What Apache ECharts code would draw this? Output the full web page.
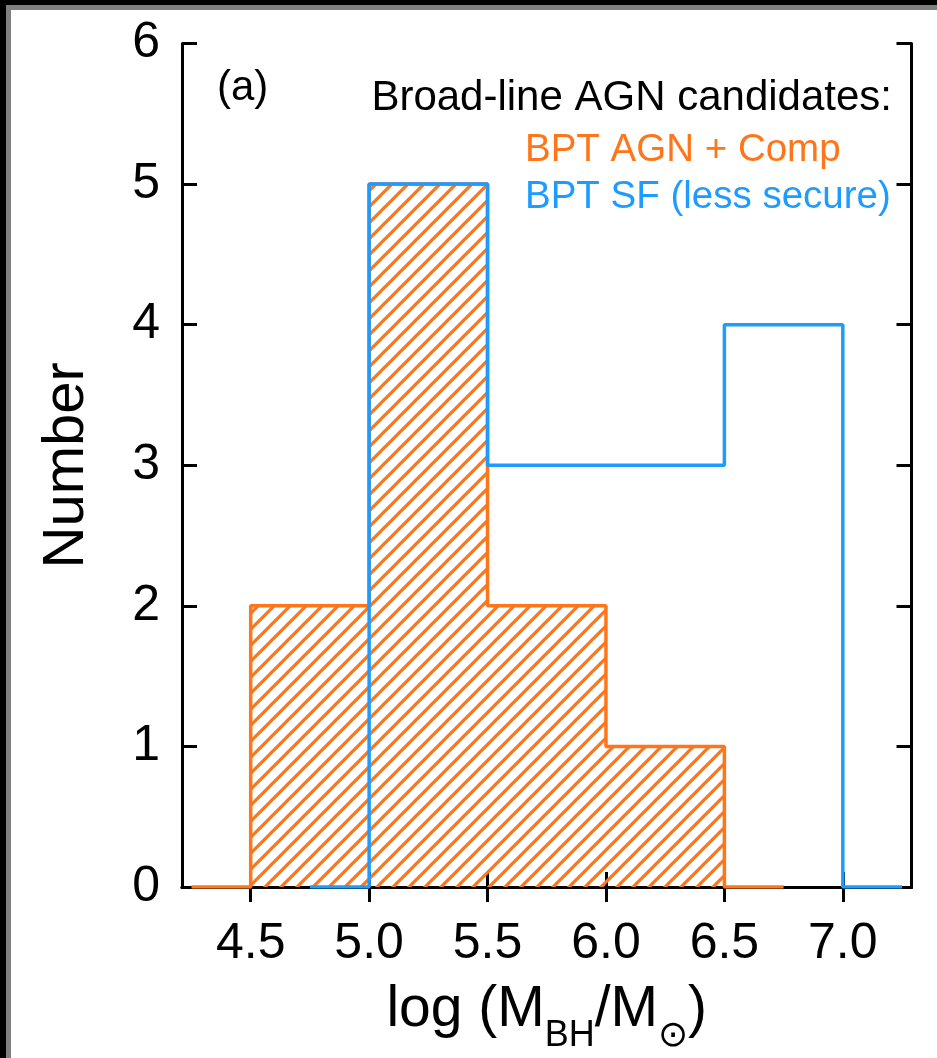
<!DOCTYPE html>
<html>
<head>
<meta charset="utf-8">
<script src="https://cdn.jsdelivr.net/npm/echarts@6/dist/echarts.min.js"></script>
<style>
  html, body { margin: 0; padding: 0; background: #000; width: 937px; height: 1058px; overflow: hidden; }
  #frame { position: absolute; left: 6px; top: 5px; width: 931px; height: 1053px; background: #808080; }
  #inner { position: absolute; left: 11px; top: 10px; width: 926px; height: 1048px; background: #fff; }
  #chart { position: absolute; left: 0; top: 0; width: 937px; height: 1058px; }
</style>
</head>
<body>
<div id="frame"></div>
<div id="inner"></div>
<div id="chart"></div>
<script>
// ---- data ----
const agnCenters = [4.25, 4.75, 5.25, 5.75, 6.25, 6.75];
const agnCounts  = [0, 2, 5, 2, 1, 0];
const sfCenters  = [4.75, 5.25, 5.75, 6.25, 6.75, 7.25];
const sfCounts   = [0, 5, 3, 3, 4, 0];
const xTickLabels = ['4.5', '5.0', '5.5', '6.0', '6.5', '7.0'];
const yTickLabels = ['0', '1', '2', '3', '4', '5', '6'];
const xRange = [4.21, 7.29];

const ORANGE = '#FF7519';
const BLUE = '#1E9BFF';
const FONT = '"Liberation Sans", Arial, Helvetica, sans-serif';

const xTickValues = xTickLabels.map(parseFloat);

// hatch pattern
const tile = document.createElement('canvas');
tile.width = 16; tile.height = 16;
const ctx = tile.getContext('2d');
ctx.strokeStyle = ORANGE;
ctx.lineWidth = 3.2;
ctx.lineCap = 'square';
[-16, 0, 16].forEach(dx => {
  ctx.beginPath();
  ctx.moveTo(dx, 16);
  ctx.lineTo(dx + 16, 0);
  ctx.stroke();
});

const chart = echarts.init(document.getElementById('chart'), null, { renderer: 'canvas' });

const axisLineStyle = { show: true, lineStyle: { color: '#000', width: 3 } };
const tickStyle = { show: true, inside: true, length: 15, lineStyle: { color: '#000', width: 3 } };

const option = {
  animation: false,
  backgroundColor: 'transparent',
  grid: { left: 182, right: 25.5, top: 43.5, bottom: 171, containLabel: false, outerBoundsMode: 'none' },
  xAxis: [
    {
      type: 'value', position: 'bottom', min: xRange[0], max: xRange[1],
      axisLine: axisLineStyle,
      axisTick: Object.assign({}, tickStyle, { customValues: xTickValues }),
      splitLine: { show: false },
      axisLabel: {
        customValues: xTickValues,
        formatter: v => xTickLabels[xTickValues.indexOf(v)] ?? v.toFixed(1),
        color: '#000', fontFamily: FONT, fontSize: 50, margin: 32
      },
      name: '{a|log (M}{s|BH}{a|/M}{s|⊙}{a|)}',
      nameLocation: 'middle',
      nameGap: 93,
      nameTextStyle: {
        rich: {
          a: { fontFamily: FONT, fontSize: 57, color: '#000', lineHeight: 60 },
          s: { fontFamily: FONT, fontSize: 36, color: '#000', lineHeight: 40, verticalAlign: 'bottom', padding: [0, 0, -14, 0] }
        }
      }
    },
    {
      type: 'value', position: 'top', min: xRange[0], max: xRange[1],
      axisLine: axisLineStyle,
      axisTick: Object.assign({}, tickStyle, { customValues: xTickValues }),
      axisLabel: { show: false },
      splitLine: { show: false }
    }
  ],
  yAxis: [
    {
      type: 'value', position: 'left', min: 0, max: 6, interval: 1,
      axisLine: axisLineStyle,
      axisTick: tickStyle,
      splitLine: { show: false },
      axisLabel: {
        formatter: v => yTickLabels[v] ?? String(v),
        color: '#000', fontFamily: FONT, fontSize: 50, margin: 22
      },
      name: 'Number',
      nameLocation: 'middle',
      nameRotate: 90,
      nameGap: 86,
      nameTextStyle: { fontFamily: FONT, fontSize: 58, color: '#000' }
    },
    {
      type: 'value', position: 'right', min: 0, max: 6, interval: 1,
      axisLine: axisLineStyle,
      axisTick: tickStyle,
      axisLabel: { show: false },
      splitLine: { show: false }
    }
  ],
  series: [
    {
      name: 'BPT AGN + Comp',
      type: 'line',
      step: 'middle',
      xAxisIndex: 0, yAxisIndex: 0,
      data: agnCenters.map((c, i) => [c, agnCounts[i]]),
      symbol: 'none',
      lineStyle: { color: ORANGE, width: 3.5 },
      areaStyle: { color: { image: tile, repeat: 'repeat' }, opacity: 1, origin: 'start' },
      z: 2
    },
    {
      name: 'BPT SF (less secure)',
      type: 'line',
      step: 'middle',
      xAxisIndex: 0, yAxisIndex: 0,
      data: sfCenters.map((c, i) => [c, sfCounts[i]]),
      symbol: 'none',
      lineStyle: { color: BLUE, width: 3.5 },
      z: 3
    }
  ],
  graphic: [
    { type: 'text', left: 217, top: 67, style: { text: '(a)', font: '42px ' + FONT, fill: '#000' } },
    { type: 'text', right: 45, top: 77, style: { text: 'Broad-line AGN candidates:', font: '42px ' + FONT, fill: '#000' } },
    { type: 'text', left: 525, top: 131, style: { text: 'BPT AGN + Comp', font: '38.5px ' + FONT, fill: ORANGE } },
    { type: 'text', left: 525, top: 178, style: { text: 'BPT SF (less secure)', font: '38.5px ' + FONT, fill: BLUE } }
  ]
};
chart.setOption(option);
</script>
</body>
</html>
